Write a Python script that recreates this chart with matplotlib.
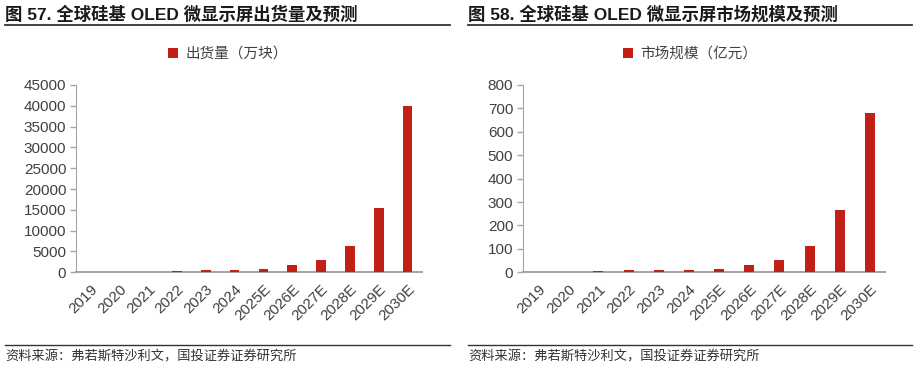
import matplotlib
matplotlib.use("Agg")
import matplotlib.pyplot as plt
from matplotlib.lines import Line2D

plt.rcParams['font.family'] = ['Liberation Sans', 'Noto Sans CJK SC', 'DejaVu Sans']

# === data ===
years = ["2019", "2020", "2021", "2022", "2023", "2024",
         "2025E", "2026E", "2027E", "2028E", "2029E", "2030E"]
shipments = [20, 40, 150, 400, 480, 650, 900, 1850, 3050, 6400, 15400, 40000]
market_size = [3, 3, 7, 10, 10, 11, 16, 33, 53, 114, 265, 680]

titles = ["图 57. 全球硅基 OLED 微显示屏出货量及预测",
          "图 58. 全球硅基 OLED 微显示屏市场规模及预测"]
legend_labels = ["出货量（万块）", "市场规模（亿元）"]
source_text = "资料来源：弗若斯特沙利文，国投证券证券研究所"

W, H = 917, 372
bar_color = "#C21F17"
axis_gray = "#A6A6A6"
text_gray = "#404040"

fig = plt.figure(figsize=(W / 100, H / 100), dpi=100)


def px(x0, y0, x1, y1):
    # pixel box -> figure fraction [left, bottom, width, height]
    return [x0 / W, 1 - y1 / H, (x1 - x0) / W, (y1 - y0) / H]


def draw_panel(box, values, ymax, ystep, label):
    ax = fig.add_axes(px(*box))
    ax.bar(range(len(years)), values, width=0.33, color=bar_color, label=label,
           zorder=3)
    ax.set_xlim(-0.5, len(years) - 0.5)
    ax.set_ylim(0, ymax)
    ax.set_yticks(range(0, ymax + 1, ystep))
    ax.set_xticks(range(len(years)))
    ax.set_xticklabels(years, rotation=45, ha='right', rotation_mode='anchor')
    ax.tick_params(axis='x', length=0, pad=7, labelsize=11, labelcolor=text_gray)
    ax.tick_params(axis='y', length=4, width=1, color=axis_gray, pad=3,
                   labelsize=11, labelcolor=text_gray)
    for s in ["top", "right"]:
        ax.spines[s].set_visible(False)
    ax.spines["left"].set_color(axis_gray)
    ax.spines["bottom"].set_color(axis_gray)
    ax.spines["bottom"].set_linewidth(1.5)
    ax.set_facecolor("none")
    return ax


ax1 = draw_panel((76, 85, 422, 272.3), shipments, 45000, 5000, legend_labels[0])
ax2 = draw_panel((523, 85, 885, 272.3), market_size, 800, 100, legend_labels[1])

for ax, cx in [(ax1, 228), (ax2, 690)]:
    ax.legend(loc='center', bbox_to_anchor=(cx / W, 1 - 54 / H),
              bbox_transform=fig.transFigure, frameon=False,
              handlelength=0.7, handleheight=0.7, handletextpad=0.5,
              prop={'family': ['Noto Sans CJK SC'], 'size': 10.5},
              labelcolor=text_gray)

# titles, rules, source
for x0, x1, t in [(5, 450, titles[0]), (468, 912, titles[1])]:
    fig.text(x0 / W, 1 - 14 / H, t, ha='left', va='center', fontsize=12.5,
             fontweight='bold', color="#1a1a1a")
    fig.add_artist(Line2D([x0 / W, x1 / W], [1 - 25 / H, 1 - 25 / H],
                          color="#333333", lw=1.3))
    fig.add_artist(Line2D([x0 / W, x1 / W], [1 - 345 / H, 1 - 345 / H],
                          color="#333333", lw=1.0))
    fig.text(x0 / W, 1 - 357 / H, source_text, ha='left', va='center',
             fontsize=9.5, color="#333333", style='italic',
             family=['Noto Sans CJK SC'])

fig.savefig("out.png", dpi=100)
